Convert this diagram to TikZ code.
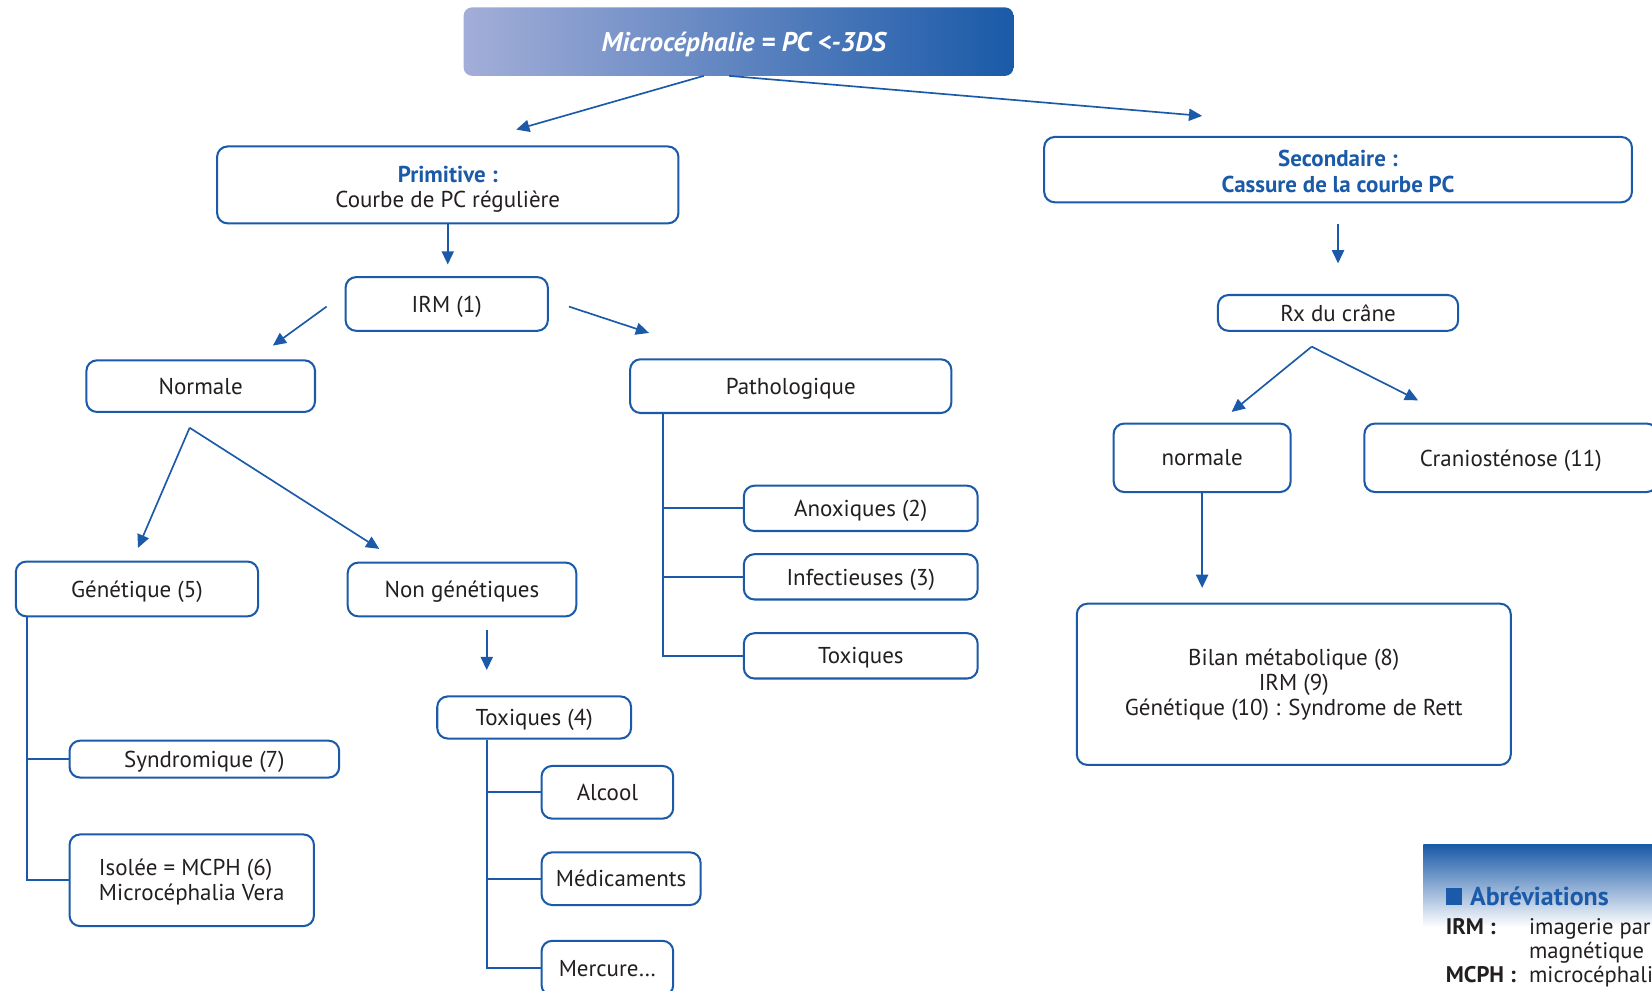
\documentclass[tikz,border=0pt]{standalone}
\usepackage{fontspec}
\setmainfont{PT Sans}
\usetikzlibrary{arrows.meta}
\definecolor{azul}{RGB}{26,90,168}
\definecolor{azulclaro}{RGB}{163,174,216}
\definecolor{negro}{RGB}{35,31,32}
% baja el texto sin cambiar su caja
\newcommand{\bajar}[3][c]{\raisebox{-#2}[\height][\depth]{\begin{tabular}{@{}#1@{}}#3\end{tabular}}}
\begin{document}
\begin{tikzpicture}[x=0.02cm, y=-0.02cm,
    cajabase/.style={draw=azul, line width=1.1pt, rounded corners=0.2cm, fill=white,
      inner sep=0pt, text=negro, align=center, font=\fontsize{12.4}{13.6}\selectfont},
    caja/.style={cajabase, text depth=0pt},
    flecha/.style={draw=azul, line width=0.9pt, -{Triangle[length=0.25cm, width=0.23cm]}},
    rama/.style={draw=azul, line width=1.1pt},
    leyenda/.style={anchor=base west, inner sep=0pt, text=negro, font=\fontsize{12.2}{13.6}\selectfont}]
  \useasboundingbox (0,0) rectangle (1568,940);
  \clip (0,0) rectangle (1568,940);

  % Titulo
  \node[caja, draw=none, left color=azulclaro, right color=azul, text=white,
    rounded corners=0.16cm, minimum width=10.44cm, minimum height=1.30cm,
    font=\fontsize{14.6}{16}\selectfont\bfseries\itshape] (tit) at (701,39.5) {\hspace{0.2cm}Microcéphalie = PC <-3DS};

  % Rama primitiva
  \node[cajabase, minimum width=8.76cm, minimum height=1.46cm] (prim) at (425,175.5)
    {\bajar{2.6pt}{\textcolor{azul}{\bfseries Primitive :}\\Courbe de PC régulière}};
  \node[caja, minimum width=3.84cm, minimum height=1.02cm] (irm) at (424,288.5) {IRM (1)};
  \node[caja, minimum width=4.34cm, minimum height=0.98cm] (normal) at (190.5,366.5) {Normale};
  \node[caja, minimum width=6.10cm, minimum height=1.02cm] (pato) at (750.5,366.5) {Pathologique};
  \node[caja, minimum width=4.60cm, minimum height=1.04cm] (gen) at (130,559) {Génétique (5)};
  \node[caja, minimum width=4.34cm, minimum height=1.02cm] (nongen) at (438.5,559.5) {Non génétiques};
  \node[caja, minimum width=3.68cm, minimum height=0.80cm] (tox) at (507,681) {Toxiques (4)};
  \node[caja, minimum width=2.50cm, minimum height=1.00cm] (alcool) at (576.5,752) {Alcool};
  \node[caja, minimum width=3.02cm, minimum height=1.00cm] (medic) at (589.5,834) {Médicaments};
  \node[caja, minimum width=2.50cm, minimum height=1.04cm] (mercure) at (576.5,919) {Mercure…};
  \node[caja, minimum width=5.12cm, minimum height=0.70cm] (synd) at (194,720.5) {Syndromique (7)};
  \node[cajabase, minimum width=4.64cm, minimum height=1.74cm] (isol) at (182,835.5)
    {\bajar[l]{1.3pt}{Isolée = MCPH (6)\\Microcéphalia Vera}};
  \node[caja, minimum width=4.44cm, minimum height=0.86cm] (anox) at (817,482.5) {Anoxiques (2)};
  \node[caja, minimum width=4.44cm, minimum height=0.86cm] (infec) at (817,547.5) {Infectieuses (3)};
  \node[caja, minimum width=4.44cm, minimum height=0.86cm] (toxp) at (817,622.5) {Toxiques};

  % Rama secundaria
  \node[cajabase, minimum width=11.16cm, minimum height=1.24cm, font=\fontsize{12.4}{13.6}\selectfont\bfseries, text=azul]
    (sec) at (1270,161) {\bajar{2.6pt}{Secondaire :\\Cassure de la courbe PC}};
  \node[caja, minimum width=4.56cm, minimum height=0.68cm] (rx) at (1270,297) {Rx du crâne};
  \node[caja, minimum width=3.36cm, minimum height=1.30cm] (norm) at (1141,434.5) {normale};
  \node[caja, minimum width=5.56cm, minimum height=1.30cm] (cranio) at (1434,434.5) {Craniosténose (11)};
  \node[cajabase, minimum width=8.24cm, minimum height=3.06cm] (bilan) at (1228,649.5)
    {\bajar{0.5pt}{Bilan métabolique (8)\\IRM (9)\\Génétique (10) : Syndrome de Rett}};

  % Puntos libres de las flechas
  \coordinate (t1) at (668,72);   \coordinate (t1f) at (490,123);
  \coordinate (t2) at (692,72);   \coordinate (t2f) at (1141,110);
  \coordinate (p1f) at (425,251);
  \coordinate (i1) at (310,291);  \coordinate (i1f) at (259,328);
  \coordinate (i2) at (540,291);  \coordinate (i2f) at (616,316);
  \coordinate (n0) at (180,406);
  \coordinate (n1f) at (131,520); \coordinate (n2f) at (360,521);
  \coordinate (g1) at (462,598);  \coordinate (g1f) at (462,636);
  \coordinate (s1) at (1270,213); \coordinate (s1f) at (1270,250);
  \coordinate (r0) at (1245,329);
  \coordinate (r1f) at (1169,391); \coordinate (r2f) at (1346,380);
  \coordinate (b1f) at (1141,558);

  % Flechas
  \draw[flecha] (t1) -- (t1f);
  \draw[flecha] (t2) -- (t2f);
  \draw[flecha] (prim.south) -- (p1f);
  \draw[flecha] (i1) -- (i1f);
  \draw[flecha] (i2) -- (i2f);
  \draw[flecha] (n0) -- (n1f);
  \draw[flecha] (n0) -- (n2f);
  \draw[flecha] (g1) -- (g1f);
  \draw[flecha] (s1) -- (s1f);
  \draw[flecha] (r0) -- (r1f);
  \draw[flecha] (r0) -- (r2f);
  \draw[flecha] (norm.south) -- (b1f);

  % Arboles
  \draw[rama] ([xshift=0.24cm]gen.south west) |- (synd.west);
  \draw[rama] ([xshift=0.24cm]gen.south west) |- (isol.west);
  \draw[rama] ([xshift=0.64cm]pato.south west) |- (anox.west);
  \draw[rama] ([xshift=0.64cm]pato.south west) |- (infec.west);
  \draw[rama] ([xshift=0.64cm]pato.south west) |- (toxp.west);
  \draw[rama] ([xshift=0.96cm]tox.south west) |- (alcool.west);
  \draw[rama] ([xshift=0.96cm]tox.south west) |- (medic.west);
  \draw[rama] ([xshift=0.96cm]tox.south west) |- (mercure.west);

  % Abreviaturas
  \shade[top color=azul, bottom color=white] (1351,802) rectangle (1568,880);
  \fill[azul] (1372,843) rectangle (1388,859);
  \node[anchor=west, inner sep=0pt, font=\fontsize{14}{16}\selectfont\bfseries, text=azul] (abrev) at (1395,851) {Abréviations};
  \node[leyenda, font=\fontsize{12.2}{13.6}\selectfont\bfseries] (ab1) at (1372,887) {IRM :};
  \node[leyenda] (ab1t) at (1451,887) {imagerie par};
  \node[leyenda] (ab1u) at (1451,910) {magnétique};
  \node[leyenda, font=\fontsize{12.2}{13.6}\selectfont\bfseries] (ab2) at (1372,933) {MCPH :};
  \node[leyenda] (ab2t) at (1451,933) {microcéphali};
\end{tikzpicture}
\end{document}
